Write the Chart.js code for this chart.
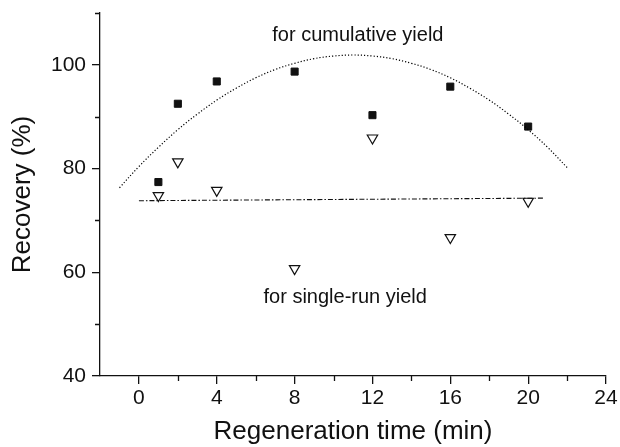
<!DOCTYPE html>
<html>
<head>
<meta charset="utf-8">
<script src="https://cdn.jsdelivr.net/npm/chart.js@4/dist/chart.umd.min.js"></script>
<style>
  html, body { margin: 0; padding: 0; background: #fff; }
  #wrap { width: 620px; height: 447px; }
</style>
</head>
<body>
<div id="wrap"><canvas id="chart"></canvas></div>
<script>
var regenTime = [1, 2, 4, 8, 12, 16, 20];
var cumulativeYield = [77.4, 92.5, 96.8, 98.7, 90.3, 95.8, 88.1];
var singleRunYield = [74.8, 81.3, 75.8, 60.7, 85.9, 66.7, 73.7];

// fitted curves
var cumulativeFitX = [-1, 0, 1, 2, 3, 4, 5, 6, 7, 8, 9, 10, 11, 12, 13, 14, 15, 16, 17, 18, 19, 20, 21, 22];
var cumulativeFitY = [76.3, 80.4, 84.1, 87.5, 90.5, 93.2, 95.5, 97.5, 99.1, 100.3, 101.2, 101.7, 101.9,
  101.7, 101.2, 100.3, 99.1, 97.5, 95.5, 93.2, 90.5, 87.5, 84.1, 80.2];
var singleFitX = [0, 20.8];
var singleFitY = [73.8, 74.3];

var xTicks = [0, 4, 8, 12, 16, 20, 24];
var yTicks = [40, 60, 80, 100];

var notes = [
  {text: 'for cumulative yield', x: 11.25, y: 105.6},
  {text: 'for single-run yield', x: 10.6, y: 55.2}
];

var fontFamily = "'Liberation Sans', Arial, Helvetica, sans-serif";
var ink = '#111';

function points(xs, ys) {
  return xs.map((x, i) => ({x: x, y: ys[i]}));
}

function isMajor(axis, value) {
  var list = axis === 'x' ? xTicks : yTicks;
  return list.indexOf(value) >= 0;
}

// short minor ticks, and the text notes inside the plot
var extras = {
  id: 'extras',
  afterDraw(chart) {
    var ctx = chart.ctx;
    var xs = chart.scales.x;
    var ys = chart.scales.y;
    ctx.save();
    ctx.strokeStyle = ink;
    ctx.lineWidth = 1.3;
    ctx.beginPath();
    xs.ticks.forEach((t) => {
      if (!isMajor('x', t.value) && t.value > xs.min) {
        var px = Math.round(xs.getPixelForValue(t.value)) + 0.5;
        ctx.moveTo(px, xs.top);
        ctx.lineTo(px, xs.top + 5);
      }
    });
    ys.ticks.forEach((t) => {
      if (!isMajor('y', t.value)) {
        var py = Math.round(ys.getPixelForValue(t.value)) + 0.5;
        ctx.moveTo(ys.right, py);
        ctx.lineTo(ys.right - 5, py);
      }
    });
    ctx.stroke();

    ctx.fillStyle = ink;
    ctx.font = '20px ' + fontFamily;
    ctx.textAlign = 'center';
    ctx.textBaseline = 'middle';
    notes.forEach((n) => {
      ctx.fillText(n.text, xs.getPixelForValue(n.x), ys.getPixelForValue(n.y));
    });
    ctx.restore();
  }
};

function tickColor(axis) {
  return (c) => (c.tick && isMajor(axis, c.tick.value)) ? ink : 'rgba(0,0,0,0)';
}

new Chart(document.getElementById('chart'), {
  type: 'scatter',
  data: {
    datasets: [
      {
        data: points(cumulativeFitX, cumulativeFitY),
        showLine: true,
        pointRadius: 0,
        borderColor: '#000',
        borderWidth: 1.2,
        borderDash: [1.2, 2],
        tension: 0.4
      },
      {
        data: points(singleFitX, singleFitY),
        showLine: true,
        pointRadius: 0,
        borderColor: '#111',
        borderWidth: 1.1,
        borderDash: [5, 2, 1.5, 2]
      },
      {
        data: points(regenTime, cumulativeYield),
        pointStyle: 'rect',
        pointRadius: 5,
        backgroundColor: '#111',
        borderColor: '#111',
        borderWidth: 1
      },
      {
        data: points(regenTime, singleRunYield),
        pointStyle: 'triangle',
        rotation: 180,
        pointRadius: 6,
        backgroundColor: '#fff',
        borderColor: '#111',
        borderWidth: 1.2
      }
    ]
  },
  options: {
    responsive: true,
    maintainAspectRatio: false,
    animation: false,
    layout: {padding: {top: 13, right: 14, left: 0, bottom: 0}},
    plugins: {
      legend: {display: false},
      tooltip: {enabled: false}
    },
    scales: {
      x: {
        type: 'linear',
        min: -2,
        max: 24,
        afterFit: (s) => {
          s.height = 71;
          s.paddingLeft = 0;
          s.paddingRight = 0;
        },
        border: {display: true, color: ink, width: 1.3},
        grid: {drawOnChartArea: false, drawTicks: true, tickLength: 8, color: tickColor('x'), lineWidth: 1.3},
        ticks: {
          stepSize: 2,
          autoSkip: false,
          maxRotation: 0,
          padding: 2,
          color: ink,
          font: {family: fontFamily, size: 21},
          callback: (v) => isMajor('x', v) ? String(v) : ''
        },
        title: {
          display: true,
          text: 'Regeneration time (min)',
          color: ink,
          font: {family: fontFamily, size: 26},
          padding: {top: 0, bottom: 0}
        }
      },
      y: {
        type: 'linear',
        min: 40,
        max: 110,
        afterFit: (s) => {
          s.width = 100;
          s.paddingTop = 0;
          s.paddingBottom = 0;
        },
        border: {display: true, color: ink, width: 1.3},
        grid: {drawOnChartArea: false, drawTicks: true, tickLength: 8, color: tickColor('y'), lineWidth: 1.3},
        ticks: {
          stepSize: 10,
          autoSkip: false,
          padding: 6,
          color: ink,
          font: {family: fontFamily, size: 21},
          callback: (v) => isMajor('y', v) ? String(v) : ''
        },
        title: {
          display: true,
          text: 'Recovery (%)',
          color: ink,
          font: {family: fontFamily, size: 26},
          padding: {top: 7, bottom: 0}
        }
      }
    }
  },
  plugins: [extras]
});
</script>
</body>
</html>
